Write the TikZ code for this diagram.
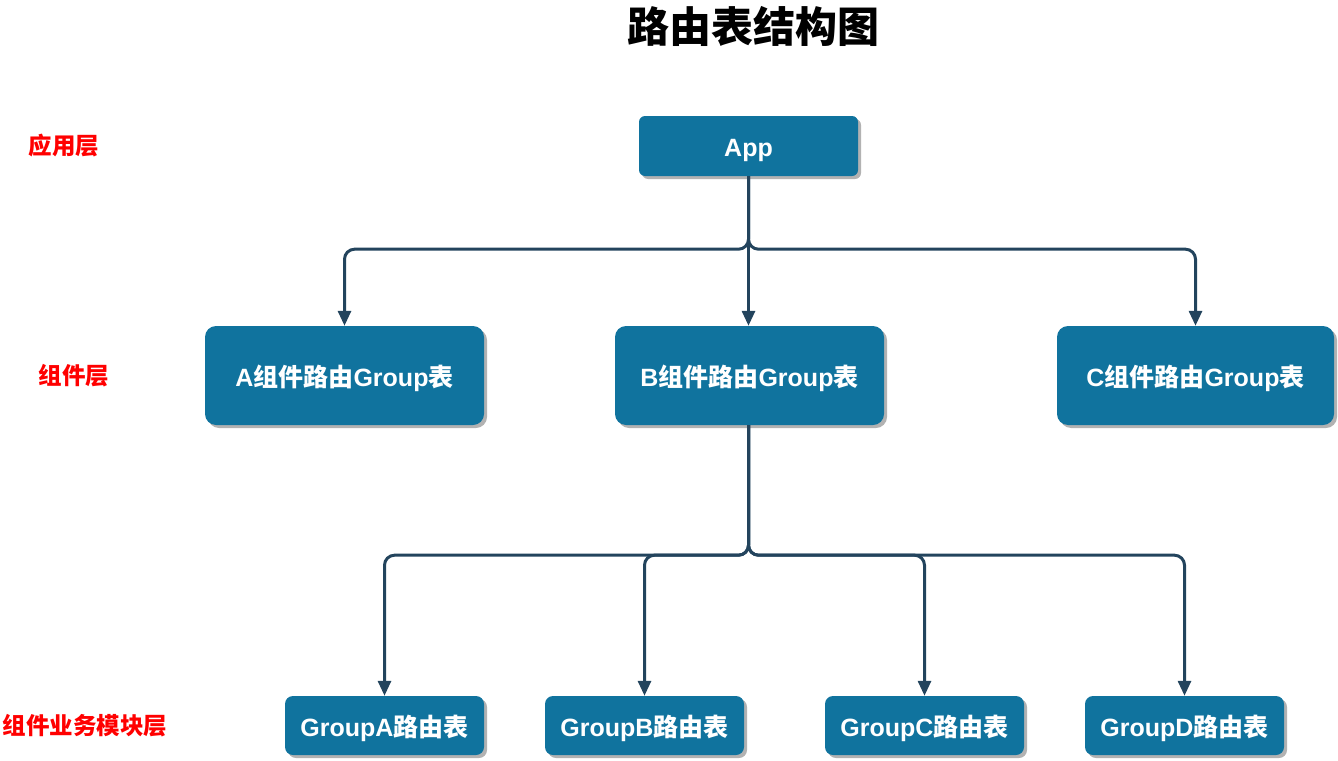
\documentclass[tikz,border=0pt]{standalone}
\usepackage{fontspec}
\setmainfont{Liberation Sans}
\newfontfamily\cjk{Noto Sans CJK SC}
\usetikzlibrary{arrows.meta,shadows}
\definecolor{boxblue}{HTML}{10739E}
\definecolor{edgec}{HTML}{23445D}
\tikzset{
  boxbase/.style={fill=boxblue, text=white, inner sep=0pt,
    font=\bfseries\fontsize{25}{29}\selectfont, text height=25pt, text depth=4pt,
    drop shadow={shadow xshift=3pt, shadow yshift=-3pt, fill=black, opacity=0.3}},
  topbox/.style={boxbase, rounded corners=6pt, minimum width=219pt, minimum height=60pt},
  midbox/.style={boxbase, rounded corners=11pt, minimum height=99pt},
  lowbox/.style={boxbase, rounded corners=8pt, minimum width=199pt, minimum height=59pt},
  conn/.style={draw=edgec, line width=3pt, rounded corners=10pt,
    -{Triangle[length=15pt,width=13pt]}},
  layer/.style={text=red, font=\cjk\bfseries\fontsize{23.5}{27}\selectfont},
}
\begin{document}
\begin{tikzpicture}[x=1pt,y=-1pt]
\useasboundingbox (0,0) rectangle (1338,760);
\node[font=\cjk\bfseries\fontsize{42}{48}\selectfont] (title) at (753,26) {路由表结构图};

\node[layer] (l1) at (64,146) {应用层};
\node[layer] (l2) at (74,376) {组件层};
\node[layer] (l3) at (85,726) {组件业务模块层};

\node[topbox] (app) at (748.5,146) {App};
\node[midbox, minimum width=279pt] (a) at (344.5,375.5) {A{\cjk 组件路由}Group{\cjk 表}};
\node[midbox, minimum width=269pt] (b) at (749.5,375.5) {B{\cjk 组件路由}Group{\cjk 表}};
\node[midbox, minimum width=277pt] (c) at (1195.5,375.5) {C{\cjk 组件路由}Group{\cjk 表}};

\node[lowbox] (ga) at (384.5,725.5) {GroupA{\cjk 路由表}};
\node[lowbox] (gb) at (644.5,725.5) {GroupB{\cjk 路由表}};
\node[lowbox] (gc) at (924.5,725.5) {GroupC{\cjk 路由表}};
\node[lowbox] (gd) at (1184.5,725.5) {GroupD{\cjk 路由表}};

\draw[conn] (app.south) -- ++(0,73) -| (a.north);
\draw[conn] (app.south) -- (app.south |- b.north);
\draw[conn] (app.south) -- ++(0,73) -| (c.north);

\draw[conn] (b.south -| app.south) -- ++(0,130) -| (ga.north);
\draw[conn] (b.south -| app.south) -- ++(0,130) -| (gb.north);
\draw[conn] (b.south -| app.south) -- ++(0,130) -| (gc.north);
\draw[conn] (b.south -| app.south) -- ++(0,130) -| (gd.north);
\end{tikzpicture}
\end{document}
